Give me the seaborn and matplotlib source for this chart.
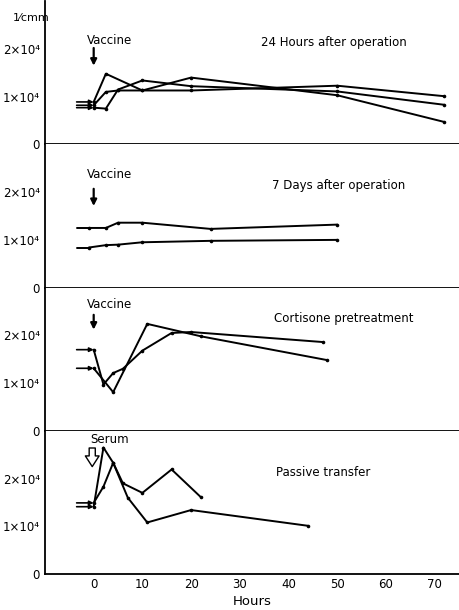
import matplotlib
matplotlib.use("Agg")
import matplotlib.pyplot as plt
import seaborn as sns
import pandas as pd

# ---------------- data (values in units of 10^4 per cmm) ----------------
PRE_HOUR = -3.5

# Panel 1: 24 hours after operation
p1_start = [0.89, 0.82, 0.77]
p1_hours = [[0, 2.5, 10, 20, 50, 72],
            [0, 2.5, 5, 10, 20, 50, 72],
            [0, 2.5, 5, 10, 20, 50, 72]]
p1_vals = [[0.89, 1.48, 1.13, 1.40, 1.03, 0.47],
           [0.82, 1.10, 1.13, 1.13, 1.13, 1.23, 1.01],
           [0.77, 0.75, 1.15, 1.34, 1.22, 1.11, 0.83]]

# Panel 2: 7 days after operation
p2_start = [1.25, 0.84]
p2_hours = [[-1, 2.5, 5, 10, 24, 50],
            [-1, 2.5, 5, 10, 24, 50]]
p2_vals = [[1.25, 1.25, 1.36, 1.36, 1.23, 1.32],
           [0.84, 0.89, 0.90, 0.95, 0.98, 1.00]]

# Panel 3: Cortisone pretreatment
p3_start = [1.70, 1.31]
p3_hours = [[0, 2, 4, 6, 10, 16, 20, 47],
            [0, 4, 11, 22, 48]]
p3_vals = [[1.70, 0.97, 1.21, 1.30, 1.68, 2.05, 2.07, 1.86],
           [1.31, 0.81, 2.24, 1.98, 1.48]]

# Panel 4: Passive transfer
p4_start = [1.41, 1.49]
p4_hours = [[0, 2, 4, 7, 11, 20, 44],
            [0, 2, 4, 6, 10, 16, 22]]
p4_vals = [[1.41, 2.65, 2.33, 1.60, 1.08, 1.34, 1.01],
           [1.49, 1.83, 2.33, 1.90, 1.70, 2.19, 1.61]]

panel_titles = ["24 Hours after operation", "7 Days after operation",
                "Cortisone pretreatment", "Passive transfer"]
marker_labels = ["Vaccine", "Vaccine", "Vaccine", "Serum"]
x_ticks = [0, 10, 20, 30, 40, 50, 60, 70]
y_ticks = [0, 1, 2]
y_tick_labels = ["0", "1×10⁴", "2×10⁴"]
x_label = "Hours"
unit_label = "1⁄cmm"

# ---------------- figure ----------------
sns.set_style("white")
plt.rcParams["font.family"] = ["DejaVu Sans"]
plt.rcParams["text.color"] = "black"
plt.rcParams["axes.labelcolor"] = "black"
plt.rcParams["xtick.color"] = "black"
plt.rcParams["ytick.color"] = "black"

fig, axes = plt.subplots(4, 1, figsize=(4.59, 6.10), dpi=100, sharex=True)
fig.subplots_adjust(left=0.098, right=1.0, top=0.998, bottom=0.059, hspace=0)

panels = [
    (p1_start, p1_hours, p1_vals, True, (2.13, 34.4), (2.18, 2.02, 1.65)),
    (p2_start, p2_hours, p2_vals, False, (2.14, 36.7), (2.36, 2.07, 1.71)),
    (p3_start, p3_hours, p3_vals, True, (2.35, 37.0), (2.64, 2.43, 2.12)),
    (p4_start, p4_hours, p4_vals, True, (2.12, 37.4), (2.81, 2.64, 2.25)),
]

for i, (ax, (starts, hours, vals, arrows, tpos, mpos)) in enumerate(zip(axes, panels)):
    rows = []
    for s, (h, v) in enumerate(zip(hours, vals)):
        for hh, vv in zip(h, v):
            rows.append({"hour": hh, "value": vv, "series": s})
    df = pd.DataFrame(rows)
    sns.lineplot(data=df, x="hour", y="value", units="series", estimator=None,
                 sort=False, color="black", lw=1.4, marker="o", markersize=2.6,
                 markeredgewidth=0, ax=ax)
    # pre-treatment level lines
    for s, (st, h) in enumerate(zip(starts, hours)):
        if arrows:
            ax.annotate("", xy=(h[0], st), xytext=(PRE_HOUR, st),
                        arrowprops=dict(arrowstyle="-|>", color="black", lw=1.2,
                                        mutation_scale=6, shrinkA=0, shrinkB=0))
        else:
            ax.plot([PRE_HOUR, h[0]], [st, st], color="black", lw=1.4)

    ax.set_xlim(-10, 75)
    ax.set_ylim(0, 3.0)
    ax.set_xticks(x_ticks)
    ax.set_yticks(y_ticks)
    ax.set_yticklabels(y_tick_labels, fontsize=8.5)
    ax.set_ylabel("")
    ax.set_xlabel("")
    for sp in ["top", "right"]:
        ax.spines[sp].set_visible(False)
    for sp in ["left", "bottom"]:
        ax.spines[sp].set_color("black")
        ax.spines[sp].set_linewidth(1.3)
    ax.tick_params(axis="x", direction="in", length=4, width=1.2, labelsize=8.5,
                   colors="black", pad=3)
    ax.tick_params(axis="y", direction="inout", length=5, width=1.2, pad=1,
                   colors="black")

    ax.text(tpos[1], tpos[0], panel_titles[i], fontsize=8.5, va="center", ha="left",
            color="black")
    ax.text(3.2, mpos[0], marker_labels[i], fontsize=8.5, va="center", ha="center",
            color="black")
    if i < 3:
        ax.annotate("", xy=(0, mpos[2]), xytext=(0, mpos[1]),
                    arrowprops=dict(arrowstyle="-|>", color="black", lw=1.6,
                                    mutation_scale=9, shrinkA=0, shrinkB=0))
    else:
        ax.annotate("", xy=(-0.3, mpos[2]), xytext=(-0.3, mpos[1]),
                    arrowprops=dict(arrowstyle="simple,head_width=0.9,head_length=0.7,tail_width=0.4",
                                    fc="white", ec="black", lw=1.0,
                                    mutation_scale=11, shrinkA=0, shrinkB=0))

axes[0].text(-9.0, 2.65, unit_label, fontsize=8, ha="right", va="center", color="black")
for ax in axes[:3]:
    ax.tick_params(axis="x", labelbottom=False)
axes[3].set_xticklabels([str(t) for t in x_ticks])
axes[3].set_xlabel(x_label, fontsize=9.5, labelpad=3, color="black")

fig.savefig("out.png", dpi=100)
